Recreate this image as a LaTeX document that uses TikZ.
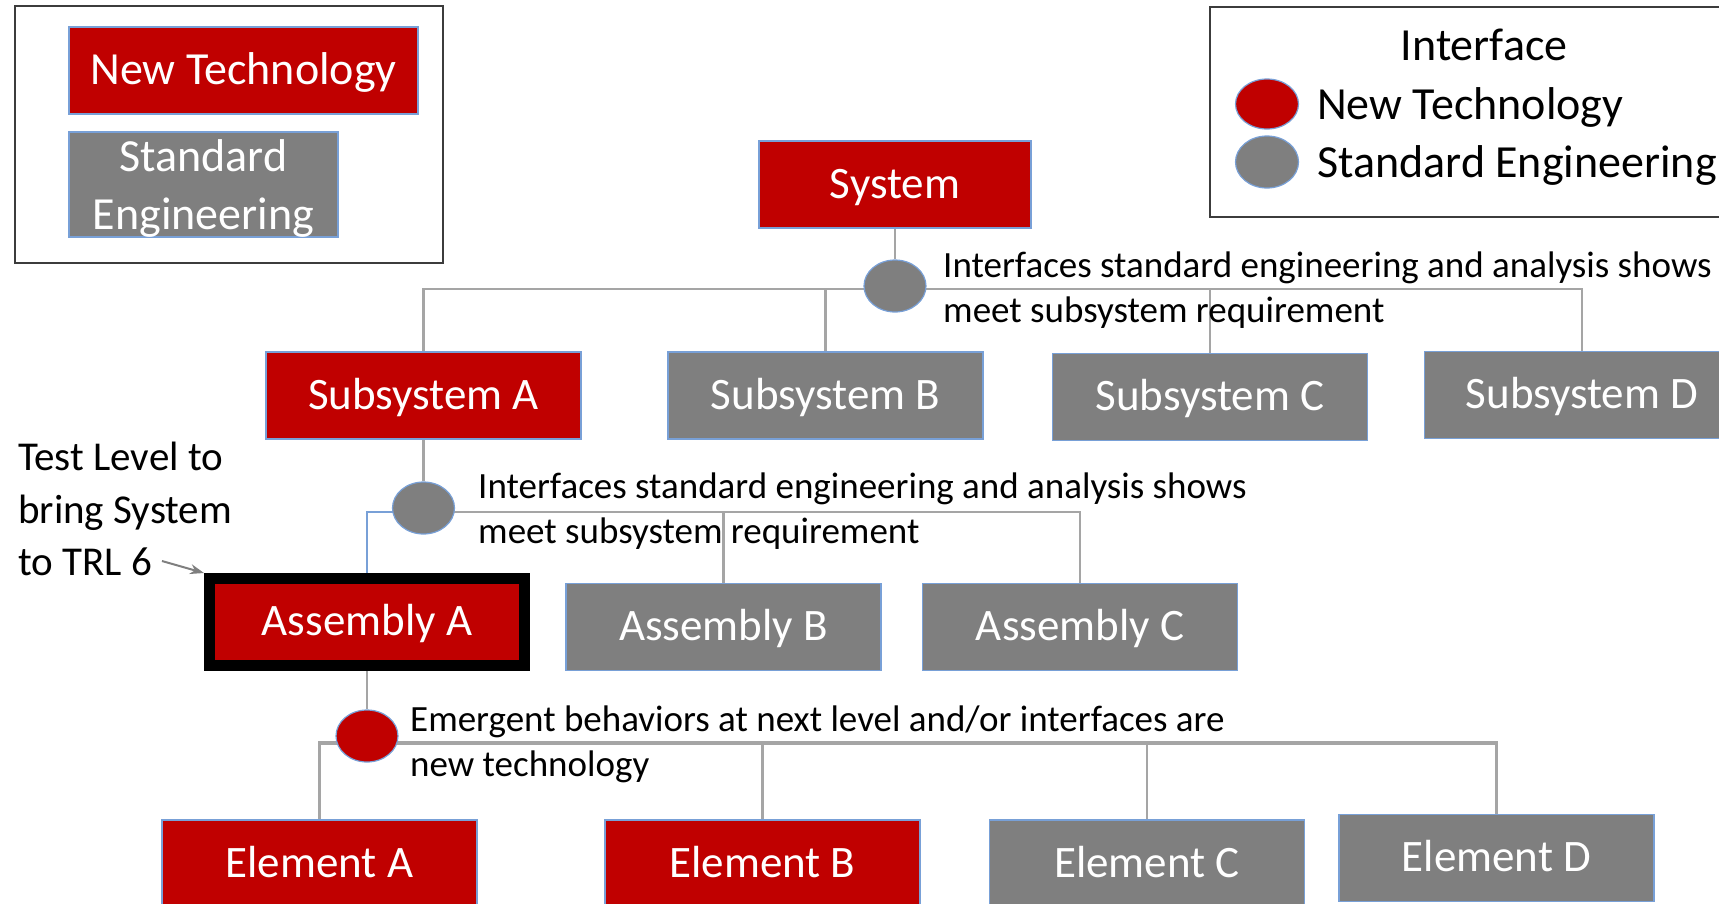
\documentclass[tikz,border=0pt]{standalone}
\usepackage{fontspec}
\setmainfont{Carlito}
\usetikzlibrary{shapes.geometric,arrows.meta,backgrounds}
\definecolor{techred}{RGB}{192,0,0}
\definecolor{stdgray}{RGB}{127,127,127}
\definecolor{edgeblue}{RGB}{120,160,215}
\definecolor{wire}{RGB}{165,165,165}
\definecolor{frame}{RGB}{60,60,60}

\begin{document}
\begin{tikzpicture}[x=1pt,y=-1pt,
  box/.style={rectangle, minimum width=315pt, minimum height=87pt, inner sep=0pt,
              text height=32pt, text depth=5pt,
              draw=edgeblue, line width=1.5pt, text=white, font=\fontsize{45}{54}\selectfont},
  newbox/.style={box, fill=techred},
  stdbox/.style={box, fill=stdgray},
  iface/.style={ellipse, minimum width=62pt, minimum height=52pt, inner sep=0pt,
                draw=edgeblue, line width=1.2pt},
  note/.style={font=\fontsize{37}{45.5}\selectfont, align=left, inner sep=0pt, anchor=west},
  legtext/.style={font=\fontsize{46}{56}\selectfont, inner sep=0pt},
  framebox/.style={draw=frame, line width=2pt, inner sep=0pt},
  wireline/.style={draw=wire, line width=2.5pt},
  busline/.style={draw=wire, line width=3.5pt},
  blueline/.style={draw=edgeblue, line width=2pt}
]
\useasboundingbox (0,0) rectangle (1719,903);

% ---- legend: block colours
\node[framebox, minimum width=428pt, minimum height=257pt] (legbox) at (229,134.5) {};
\node[newbox, minimum width=349pt, font=\fontsize{46}{56}\selectfont] (legNew) at (243.5,70.5) {New Technology};
\node[rectangle, draw=edgeblue, line width=1.5pt, fill=stdgray, inner sep=0pt,
      minimum width=269pt, minimum height=105pt] (legStd) at (203.5,184.5) {};
\node[text=white, align=center, inner sep=0pt, font=\fontsize{46}{58}\selectfont]
      (legStdTxt) at (203.5,188) {Standard\\Engineering};

% ---- legend: interface colours
\node[framebox, minimum width=530pt, minimum height=210pt] (ifbox) at (1475,112) {};
\node[legtext, anchor=base] (ifTitle) at (1484,60) {Interface};
\node[iface, fill=techred, minimum width=63pt, minimum height=50pt] (ifNew) at (1267,104) {};
\node[iface, fill=stdgray, minimum width=63pt, minimum height=52pt] (ifStd) at (1267,162) {};
\node[legtext, anchor=base west] (ifNewTxt) at (1317,119) {New Technology};
\node[legtext, anchor=base west] (ifStdTxt) at (1317,177) {Standard Engineering};

% ---- system level
\node[newbox, minimum width=272pt] (sys) at (895,184.5) {System};
\node[iface, fill=stdgray] (if1) at (895,286) {};
\coordinate (bus1) at (895,289);

% ---- subsystem level
\node[newbox] (subA) at (423.5,395.5) {Subsystem A};
\node[stdbox] (subB) at (825.5,395.5) {Subsystem B};
\node[stdbox] (subC) at (1210,397) {Subsystem C};
\node[stdbox] (subD) at (1582,395) {Subsystem D};
\node[iface, fill=stdgray] (if2) at (423.5,508) {};
\coordinate (bus2) at (423.5,512);

% ---- assembly level
\node[newbox, draw=black, line width=11pt] (asmA) at (367,622) {Assembly A};
\node[stdbox] (asmB) at (723.5,627) {Assembly B};
\node[stdbox] (asmC) at (1080,627) {Assembly C};
\node[iface, fill=techred] (if3) at (367,736) {};
\coordinate (bus3) at (367,743);

% ---- element level
\node[newbox] (elA) at (319.5,863.5) {Element A};
\node[newbox] (elB) at (762.5,863.5) {Element B};
\node[stdbox] (elC) at (1147,863.5) {Element C};
\node[stdbox] (elD) at (1496.5,858) {Element D};

% ---- interface notes
\node[note] (note1) at (943,290) {Interfaces standard engineering and analysis shows\\meet subsystem requirement};
\node[note] (note2) at (478,511) {Interfaces standard engineering and analysis shows\\meet subsystem requirement};
\node[note] (note3) at (410,744.5) {Emergent behaviors at next level and/or interfaces are\\new technology};

% ---- test level callout
\node[font=\fontsize{41}{52.5}\selectfont, align=left, inner sep=0pt, anchor=west] (testlbl) at (18,509)
  {Test Level to\\bring System\\to TRL 6};
\coordinate (tstart) at (162,561);
\draw[-{Stealth[length=14pt,width=10pt]}, draw=stdgray, fill=stdgray, line width=2pt] (tstart) -- (asmA.north west);

% ---- connectors
\begin{scope}[on background layer]
  \draw[wireline] (sys.south) -- (if1.north);
  \draw[wireline] (subA.north) |- (bus1) -| (subD.north);
  \draw[wireline] (subB.north) -- (subB.north |- bus1);
  \draw[wireline] (subC.north) -- (subC.north |- bus1);

  \draw[wireline] (subA.south) -- (if2.north);
  \draw[wireline] (bus2) -| (asmC.north);
  \draw[wireline] (asmB.north) -- (asmB.north |- bus2);
  \draw[blueline] (bus2) -| (asmA.north);

  \draw[wireline] (asmA.south) -- (if3.north);
  \draw[busline] (elA.north) |- (bus3) -| (elD.north);
  \draw[wireline] (elB.north) -- (elB.north |- bus3);
  \draw[wireline] (elC.north) -- (elC.north |- bus3);
\end{scope}
\end{tikzpicture}
\end{document}
